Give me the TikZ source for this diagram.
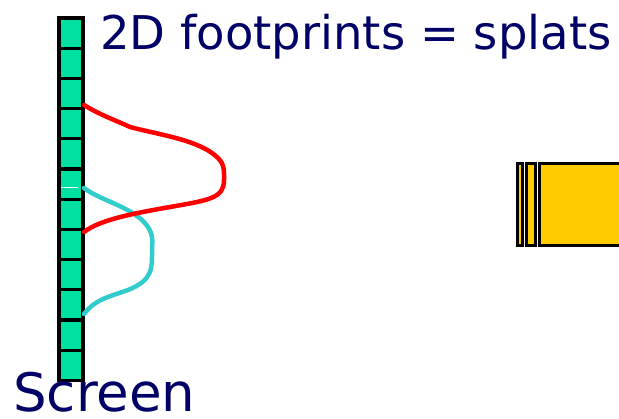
\documentclass[tikz,border=0pt]{standalone}
\usepackage{fontspec}
\setmainfont{DejaVu Sans}
\definecolor{navy}{RGB}{0,0,102}
\definecolor{cellgreen}{RGB}{0,224,160}
\definecolor{splatred}{RGB}{255,0,0}
\definecolor{splatcyan}{RGB}{51,204,204}
\definecolor{gold}{RGB}{255,204,0}
\tikzset{
  cell/.style={draw=black, line width=3.2pt, fill=cellgreen},
  bar/.style={draw=black, line width=3pt, fill=gold},
  label/.style={text=navy, inner sep=0pt, anchor=base west},
  splat/.style={line width=4.5pt, line cap=round, line join=round}
}
\begin{document}
\begin{tikzpicture}[x=1pt,y=-1pt]
\useasboundingbox (0,0) rectangle (619,419);
\fill[white] (0,0) rectangle (619,419);
% screen cells
\foreach \i in {0,...,11} {
  \draw[cell] (59,{18+30.2*\i}) rectangle (83,{18+30.2*(\i+1)});
}
\draw[white, line width=1pt] (61,188) -- (78,188);
% splats
\draw[splat, splatcyan] (84,188) .. controls (100,200) and (125,205) .. (142,220)
  .. controls (155,233) and (152,240) .. (152,252)
  .. controls (152,268) and (153,280) .. (128,290)
  .. controls (105,298) and (95,300) .. (84,314);
\draw[splat, splatred] (84,105) .. controls (100,115) and (115,120) .. (130,127)
  .. controls (160,135) and (200,140) .. (218,158)
  .. controls (225,165) and (224,172) .. (224,180)
  .. controls (224,198) and (210,200) .. (170,207)
  .. controls (130,214) and (100,220) .. (84,232);
% camera / splat bars
\draw[bar] (517,163.5) rectangle (522,245.5);
\draw[bar] (526,163.5) rectangle (535,245.5);
\draw[bar] (539,163.5) rectangle (625,245.5);
% labels
\node[label, font=\fontsize{46.5}{50}\selectfont] (title) at (100,50) {2D footprints = splats};
\node[label, font=\fontsize{53}{56}\selectfont] (screen) at (13,412) {Screen};
\end{tikzpicture}
\end{document}
